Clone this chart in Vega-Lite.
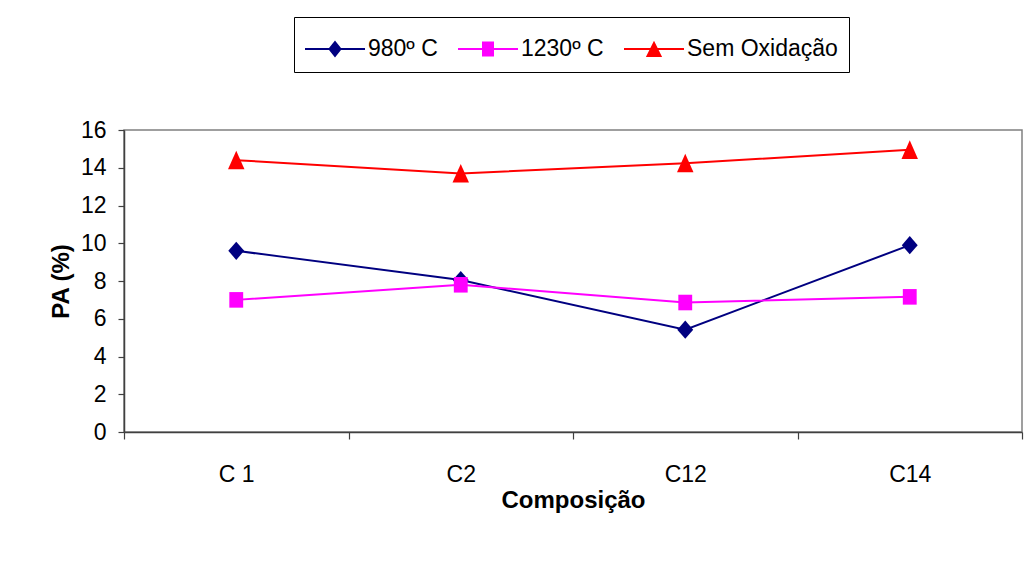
{
  "$schema": "https://vega.github.io/schema/vega-lite/v6.json",
  "width": 898,
  "height": 302,
  "autosize": {"type": "none"},
  "padding": {"left": 124, "top": 130, "right": 7, "bottom": 150},
  "background": "white",
  "config": {
    "view": {"stroke": "#808080", "strokeWidth": 1.5},
    "font": "Liberation Sans",
    "axis": {
      "grid": false,
      "domainColor": "#404040",
      "domainWidth": 1.5,
      "tickColor": "#404040",
      "tickWidth": 1.2,
      "labelColor": "#000000",
      "titleColor": "#000000",
      "labelFont": "Liberation Sans",
      "titleFont": "Liberation Sans"
    }
  },
  "data": {
    "values": [
      {"comp": "C 1", "serie": "980º C", "pa": 9.6},
      {"comp": "C2", "serie": "980º C", "pa": 8.05},
      {"comp": "C12", "serie": "980º C", "pa": 5.42},
      {"comp": "C14", "serie": "980º C", "pa": 9.9},
      {"comp": "C 1", "serie": "1230º C", "pa": 7.0},
      {"comp": "C2", "serie": "1230º C", "pa": 7.8},
      {"comp": "C12", "serie": "1230º C", "pa": 6.86},
      {"comp": "C14", "serie": "1230º C", "pa": 7.16},
      {"comp": "C 1", "serie": "Sem Oxidação", "pa": 14.4},
      {"comp": "C2", "serie": "Sem Oxidação", "pa": 13.7},
      {"comp": "C12", "serie": "Sem Oxidação", "pa": 14.24},
      {"comp": "C14", "serie": "Sem Oxidação", "pa": 14.95}
    ]
  },
  "encoding": {
    "x": {
      "field": "comp",
      "type": "nominal",
      "sort": ["C 1", "C2", "C12", "C14"],
      "scale": {"type": "band", "paddingInner": 0, "paddingOuter": 0},
      "axis": {
        "title": "Composição",
        "labelAngle": 0,
        "tickBand": "extent",
        "tickSize": 7,
        "labelPadding": 24,
        "labelFontSize": 23,
        "titleFontSize": 24,
        "titleFontWeight": "bold",
        "titlePadding": 2
      }
    },
    "y": {
      "field": "pa",
      "type": "quantitative",
      "scale": {"domain": [0, 16], "nice": false},
      "axis": {
        "title": "PA (%)",
        "values": [0, 2, 4, 6, 8, 10, 12, 14, 16],
        "tickSize": 6,
        "labelPadding": 12,
        "labelFontSize": 23,
        "titleFontSize": 24,
        "titleFontWeight": "bold",
        "titlePadding": 7
      }
    }
  },
  "layer": [
    {
      "mark": {"type": "line", "strokeWidth": 2},
      "encoding": {
        "color": {
          "field": "serie",
          "type": "nominal",
          "scale": {"domain": ["980º C", "1230º C", "Sem Oxidação"], "range": ["#000080", "#FF00FF", "#FF0000"]}
        }
      }
    },
    {
      "mark": {"type": "point", "filled": true, "size": 300, "opacity": 1},
      "encoding": {
        "shape": {
          "field": "serie",
          "type": "nominal",
          "sort": ["980º C", "1230º C", "Sem Oxidação"],
          "scale": {"range": ["M0,-1.05L0.92,0L0,1.05L-0.92,0Z", "M-0.8,-0.9L0.8,-0.9L0.8,0.9L-0.8,0.9Z", "M0,-1.1L0.95,1.05L-0.95,1.05Z"]},
          "legend": null
        },
        "color": {
          "field": "serie",
          "type": "nominal",
          "scale": {"domain": ["980º C", "1230º C", "Sem Oxidação"], "range": ["#000080", "#FF00FF", "#FF0000"]},
          "legend": {
            "orient": "none",
            "legendX": 170,
            "legendY": -113,
            "direction": "horizontal",
            "title": null,
            "labelFontSize": 23,
            "labelFont": "Liberation Sans",
            "labelColor": "#000000",
            "symbolSize": 1600,
            "symbolStrokeWidth": 2,
            "symbolType": {"expr": "datum.value === '980º C' ? 'M-1.5,0L1.5,0M0,-0.35L0.275,0L0,0.35L-0.275,0Z' : datum.value === '1230º C' ? 'M-1.5,0L1.5,0M-0.25,-0.325L0.25,-0.325L0.25,0.325L-0.25,0.325Z' : 'M-1.5,0L1.5,0M0,-0.3L0.325,0.35L-0.325,0.35Z'"},
            "symbolOffset": 9,
            "labelOffset": 12,
            "columnPadding": 16,
            "padding": 11,
            "strokeColor": "#000000",
            "fillColor": "white"
          }
        }
      }
    }
  ]
}
